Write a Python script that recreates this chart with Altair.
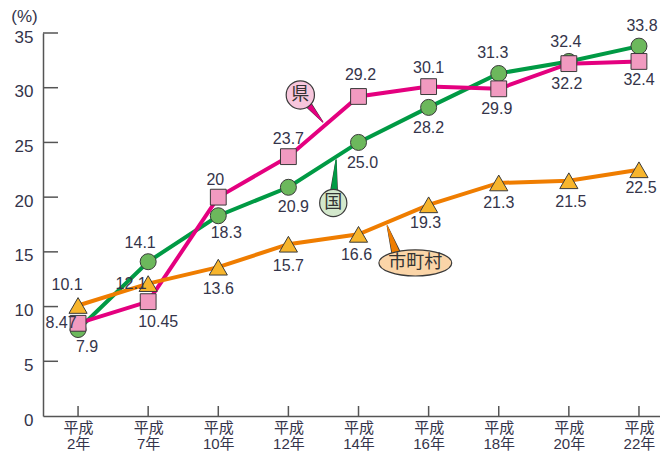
import json
import altair as alt
import pandas as pd

# ---- data ----
years = ["平成|2年", "平成|7年", "平成|10年", "平成|12年", "平成|14年",
         "平成|16年", "平成|18年", "平成|20年", "平成|22年"]
kuni = [7.9, 14.1, 18.3, 20.9, 25.0, 28.2, 31.3, 32.4, 33.8]
kuni_txt = ["7.9", "14.1", "18.3", "20.9", "25.0", "28.2", "31.3", "32.4", "33.8"]
ken = [8.47, 10.45, 20, 23.7, 29.2, 30.1, 29.9, 32.2, 32.4]
ken_txt = ["8.47", "10.45", "20", "23.7", "29.2", "30.1", "29.9", "32.2", "32.4"]
shi = [10.1, 12.1, 13.6, 15.7, 16.6, 19.3, 21.3, 21.5, 22.5]
shi_txt = ["10.1", "12.1", "13.6", "15.7", "16.6", "19.3", "21.3", "21.5", "22.5"]
y_ticks = [0, 5, 10, 15, 20, 25, 30, 35]

# label placement offsets (pixels) for each value label
kuni_off = [(9, 17), (-8, -19), (8, 17), (5, 20), (4, 21), (0, 21), (-6, -20), (-3, -19), (3, -20)]
ken_off = [(-17, 0), (10, 20), (-3, -17), (0, -18), (2, -21), (0, -19), (-2, 20), (-2, 20), (0, 19)]
shi_off = [(-11, -20), (-17, 0), (0, 22), (0, 22), (-2, 21), (-3, 18), (0, 20), (2, 21), (2, 18)]

W, H = 617, 383
XD = [-0.5, 8.3]
YD = [0, 35]
PX_X = W / (XD[1] - XD[0])
PX_Y = H / (YD[1] - YD[0])

FONT = "Liberation Sans, Noto Sans CJK JP, sans-serif"
TXT = "#34344a"
AX = "#555555"

series = [("国", kuni, kuni_txt, kuni_off), ("県", ken, ken_txt, ken_off), ("市町村", shi, shi_txt, shi_off)]
rows, lrows = [], []
for name, vals, txts, offs in series:
    for i, (v, t, o) in enumerate(zip(vals, txts, offs)):
        rows.append({"s": name, "i": i, "v": v})
        lrows.append({"s": name, "lx": i + o[0] / PX_X, "ly": v - o[1] / PX_Y, "t": t})
df = pd.DataFrame(rows)
ldf = pd.DataFrame(lrows)

colors = {"国": "#009a44", "県": "#e4007f", "市町村": "#ef7d00"}
fills = {"国": "#6cb85c", "県": "#f19ac0", "市町村": "#f7b52c"}

xs = alt.Scale(domain=XD, nice=False, zero=False)
ys = alt.Scale(domain=YD, nice=False)

label_expr = "split(" + json.dumps(years, ensure_ascii=False) + "[datum.value], '|')"

base = alt.Chart(df)

x_enc = alt.X("i:Q", scale=xs, axis=alt.Axis(
    values=list(range(len(years))), labelExpr=label_expr, ticks=False, grid=False,
    domainColor=AX, domainWidth=1.5, labelFont=FONT, labelFontSize=15, labelLineHeight=16,
    labelPadding=4, labelColor=TXT, labelFlush=False, labelOverlap=False, title=None))
y_enc = alt.Y("v:Q", scale=ys, axis=alt.Axis(
    values=y_ticks, ticks=False, grid=False, domainColor=AX, domainWidth=1.5,
    labelFont=FONT, labelFontSize=17, labelColor=TXT, labelPadding=10, labelOffset=4,
    labelFlush=False,
    title="(%)", titleAngle=0, titleAlign="center", titleBaseline="bottom",
    titleX=-19, titleY=-8, titleFont=FONT, titleFontSize=17, titleFontWeight="normal",
    titleColor=TXT))

order = ["市町村", "国", "県"]
lines = base.mark_line(strokeWidth=4).encode(
    x=x_enc, y=y_enc,
    color=alt.Color("s:N", scale=alt.Scale(domain=order, range=[colors[k] for k in order]), legend=None),
    detail="s:N")

# inward ticks
ytk = alt.Chart(pd.DataFrame({"v": y_ticks[1:]})).mark_rule(color=AX, strokeWidth=1.5).encode(
    y=alt.Y("v:Q", scale=ys), x=alt.value(0), x2=alt.value(15))
xtk = alt.Chart(pd.DataFrame({"i": list(range(len(years)))})).mark_rule(color=AX, strokeWidth=1.5).encode(
    x=alt.X("i:Q", scale=xs), y=alt.value(H), y2=alt.value(H - 10))

shapes = {"市町村": ("triangle-up", 330), "国": ("circle", 256), "県": ("square", 250)}
markers = []
for k in order:
    shp, sz = shapes[k]
    markers.append(base.transform_filter(alt.datum.s == k).mark_point(
        shape=shp, size=sz, filled=True, fill=fills[k], stroke="#3a3a3a", strokeWidth=1, opacity=1
    ).encode(x=alt.X("i:Q", scale=xs), y=alt.Y("v:Q", scale=ys)))

labels = alt.Chart(ldf).mark_text(font=FONT, fontSize=16, color=TXT, baseline="middle", align="center").encode(
    x=alt.X("lx:Q", scale=xs), y=alt.Y("ly:Q", scale=ys), text="t:N")

# callout bubbles
ann_name = ["県", "国", "市町村"]
ann_x = [3.17, 3.64, 4.81]
ann_y = [29.34, 19.47, 13.99]
ann_fill = ["#f7c6dc", "#d3e8cc", "#fbd5a8"]
tail_x0 = [3.17, 3.64, 4.55]
tail_y0 = [29.34, 19.47, 14.6]
tail_x1 = [3.49, 3.68, 4.41]
tail_y1 = [26.87, 23.4, 17.37]

trows = []
for n, a, b, c, d in zip(ann_name, tail_x0, tail_y0, tail_x1, tail_y1):
    trows.append({"n": n, "x": a, "y": b, "o": 0, "w": 10.5, "w2": 8.5})
    trows.append({"n": n, "x": c, "y": d, "o": 1, "w": 1.2, "w2": 0})
tdf = pd.DataFrame(trows)
tail_out = alt.Chart(tdf).mark_trail(color="#3a3a3a").encode(
    x=alt.X("x:Q", scale=xs), y=alt.Y("y:Q", scale=ys), detail="n:N", order="o:Q",
    size=alt.Size("w:Q", scale=None, legend=None))
tail_in = alt.Chart(tdf).mark_trail().encode(
    x=alt.X("x:Q", scale=xs), y=alt.Y("y:Q", scale=ys), detail="n:N", order="o:Q",
    size=alt.Size("w2:Q", scale=None, legend=None),
    color=alt.Color("n:N", scale=alt.Scale(domain=ann_name, range=ann_fill), legend=None))

adf = pd.DataFrame({"n": ann_name, "x": ann_x, "y": ann_y})
ellipse = "M -1 0 A 1 0.36 0 1 1 1 0 A 1 0.36 0 1 1 -1 0 Z"
bub = []
for n, shp, sz, f in [("県", "circle", 800, ann_fill[0]), ("国", "circle", 740, ann_fill[1]),
                      ("市町村", ellipse, 5300, ann_fill[2])]:
    bub.append(alt.Chart(adf).transform_filter(alt.datum.n == n).mark_point(
        shape=shp, size=sz, filled=True, fill=f, stroke="#3a3a3a", strokeWidth=1.2, opacity=1
    ).encode(x=alt.X("x:Q", scale=xs), y=alt.Y("y:Q", scale=ys)))
bub_txt = alt.Chart(adf).mark_text(font="Noto Sans CJK JP", fontSize=18, color="#333333",
                                   baseline="middle", align="center").encode(
    x=alt.X("x:Q", scale=xs), y=alt.Y("y:Q", scale=ys), text="n:N")

chart = alt.layer(
    lines, ytk, xtk, *markers, labels, tail_out, tail_in, *bub, bub_txt
).properties(
    width=W, height=H, autosize="none",
    padding={"left": 35, "top": 25, "right": 0, "bottom": 37},
    background="white"
).configure_view(stroke=None)

chart.save("out.html", embed_options={"renderer": "svg", "actions": False})
